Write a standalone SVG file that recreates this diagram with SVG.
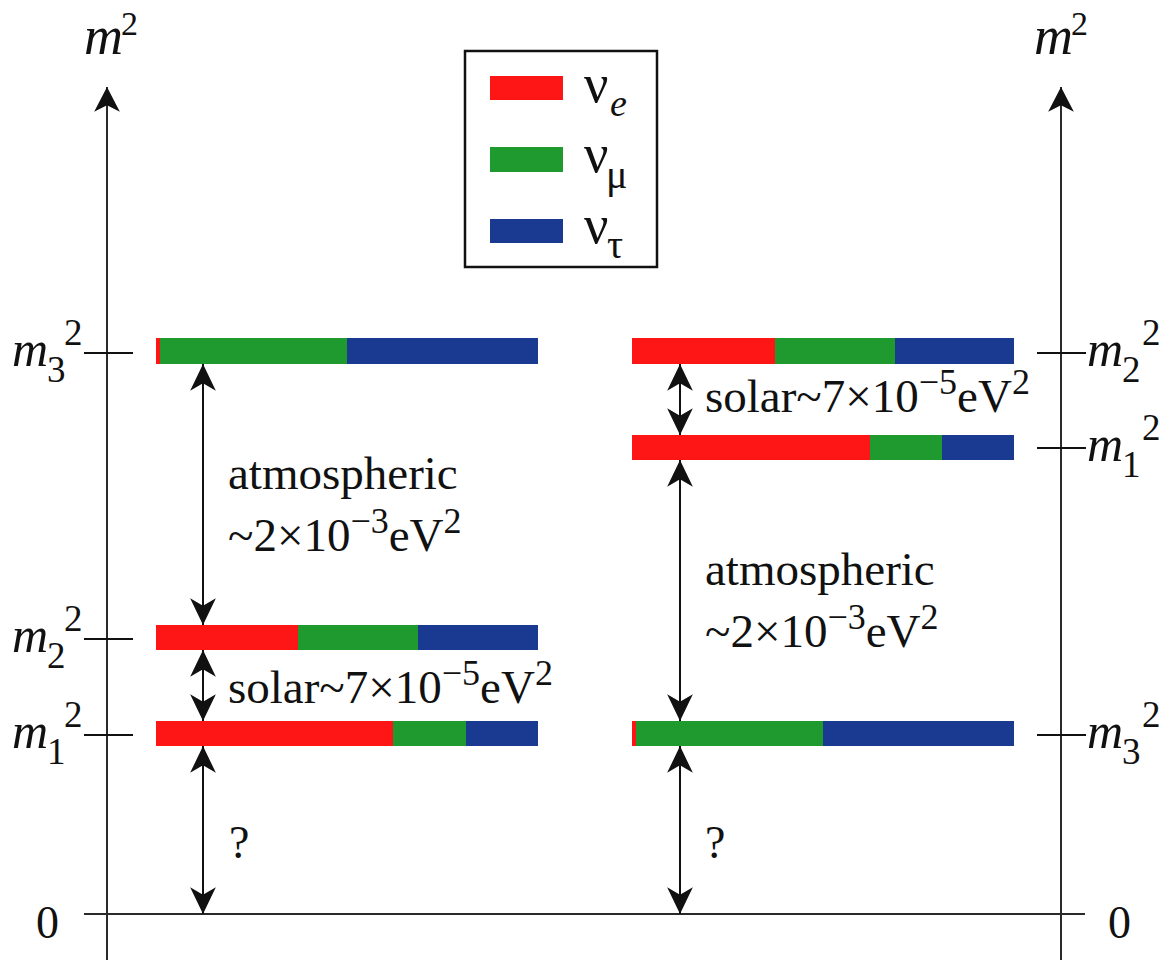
<svg xmlns="http://www.w3.org/2000/svg" width="1172" height="960" viewBox="0 0 1172 960">
  <style>
    text { font-family: "Liberation Serif", "Times New Roman", serif; fill: #111; }
    .it { font-style: italic; }
    .m { font-size: 50px; font-style: italic; }
    .ms { font-size: 37px; }
    .lbl { font-size: 47px; }
    .sup { font-size: 36px; }
    .ax { stroke: #2a2a2a; stroke-width: 2; fill: none; }
    .tick { stroke: #111; stroke-width: 2.2; }
    .arr { stroke: #111; stroke-width: 2; fill: none; marker-start: url(#head); marker-end: url(#head); }
    .r { fill: #fe1616; }
    .g { fill: #1f9a2e; }
    .b { fill: #1a3a92; }
  </style>
  <defs>
    <marker id="head" markerUnits="userSpaceOnUse" markerWidth="30" markerHeight="30" viewBox="-26 -14 28 28" refX="0" refY="0" orient="auto-start-reverse">
      <path d="M0,0 L-25,-12 L-18,0 L-25,12 Z" fill="#111"/>
    </marker>
    <marker id="axhead" markerUnits="userSpaceOnUse" markerWidth="30" markerHeight="30" viewBox="-26 -14 28 28" refX="0" refY="0" orient="auto">
      <path d="M0,0 L-23,-12 L-17,0 L-23,12 Z" fill="#111"/>
    </marker>
  </defs>

  <rect width="1172" height="960" fill="#ffffff"/>

  <!-- axes -->
  <g id="axes">
    <line class="ax" x1="107" y1="960" x2="107" y2="87" marker-end="url(#axhead)"/>
    <line class="ax" x1="1061" y1="960" x2="1061" y2="87" marker-end="url(#axhead)"/>
    <line class="ax" x1="84" y1="914" x2="1085" y2="914"/>
    <text x="84" y="54" font-size="54" class="it">m</text>
    <text x="121" y="35" font-size="34">2</text>
    <text x="1034" y="54" font-size="54" class="it">m</text>
    <text x="1071" y="35" font-size="34">2</text>
    <text x="36" y="938" font-size="46">0</text>
    <text x="1108" y="938" font-size="46">0</text>
  </g>

  <!-- legend -->
  <g id="legend">
    <rect x="465" y="51" width="192" height="216" fill="#fff" stroke="#111" stroke-width="2.5"/>
    <rect class="r" x="490" y="76" width="73" height="24"/>
    <rect class="g" x="490" y="147" width="73" height="25"/>
    <rect class="b" x="490" y="219" width="73" height="24"/>
    <text x="584" y="102" font-size="54">ν</text>
    <text x="610" y="116" font-size="38" class="it">e</text>
    <text x="584" y="172" font-size="54">ν</text>
    <text x="606" y="188" font-size="40">μ</text>
    <text x="584" y="243" font-size="54">ν</text>
    <text x="607" y="258" font-size="40">τ</text>
  </g>

  <!-- left spectrum (normal) -->
  <g id="left-m3">
    <rect class="r" x="156" y="338" width="4" height="26"/>
    <rect class="g" x="160" y="338" width="187" height="26"/>
    <rect class="b" x="347" y="338" width="191" height="26"/>
    <line class="tick" x1="84" y1="353" x2="133" y2="353"/>
    <text x="12" y="366" class="m">m</text>
    <text x="47" y="382" class="ms">3</text>
    <text x="64" y="345" class="ms">2</text>
  </g>
  <g id="left-m2">
    <rect class="r" x="156" y="625" width="142" height="25"/>
    <rect class="g" x="298" y="625" width="120" height="25"/>
    <rect class="b" x="418" y="625" width="120" height="25"/>
    <line class="tick" x1="84" y1="639" x2="133" y2="639"/>
    <text x="12" y="652" class="m">m</text>
    <text x="47" y="668" class="ms">2</text>
    <text x="64" y="631" class="ms">2</text>
  </g>
  <g id="left-m1">
    <rect class="r" x="156" y="721" width="237" height="25"/>
    <rect class="g" x="393" y="721" width="73" height="25"/>
    <rect class="b" x="466" y="721" width="72" height="25"/>
    <line class="tick" x1="84" y1="735" x2="133" y2="735"/>
    <text x="12" y="748" class="m">m</text>
    <text x="47" y="764" class="ms">1</text>
    <text x="64" y="727" class="ms">2</text>
  </g>

  <!-- right spectrum (inverted) -->
  <g id="right-m2">
    <rect class="r" x="632" y="338" width="143" height="26"/>
    <rect class="g" x="775" y="338" width="120" height="26"/>
    <rect class="b" x="895" y="338" width="119" height="26"/>
    <line class="tick" x1="1037" y1="353" x2="1086" y2="353"/>
    <text x="1087" y="366" class="m">m</text>
    <text x="1122" y="382" class="ms">2</text>
    <text x="1142" y="345" class="ms">2</text>
  </g>
  <g id="right-m1">
    <rect class="r" x="632" y="435" width="238" height="25"/>
    <rect class="g" x="870" y="435" width="72" height="25"/>
    <rect class="b" x="942" y="435" width="72" height="25"/>
    <line class="tick" x1="1037" y1="448" x2="1086" y2="448"/>
    <text x="1087" y="461" class="m">m</text>
    <text x="1122" y="477" class="ms">1</text>
    <text x="1142" y="440" class="ms">2</text>
  </g>
  <g id="right-m3">
    <rect class="r" x="632" y="721" width="4" height="25"/>
    <rect class="g" x="636" y="721" width="187" height="25"/>
    <rect class="b" x="823" y="721" width="191" height="25"/>
    <line class="tick" x1="1037" y1="735" x2="1086" y2="735"/>
    <text x="1087" y="748" class="m">m</text>
    <text x="1122" y="764" class="ms">3</text>
    <text x="1142" y="727" class="ms">2</text>
  </g>

  <!-- connectors -->
  <g id="connectors">
    <line class="arr" x1="203" y1="364" x2="203" y2="625"/>
    <line class="arr" x1="203" y1="650" x2="203" y2="721"/>
    <line class="arr" x1="203" y1="746" x2="203" y2="914"/>
    <line class="arr" x1="680" y1="364" x2="680" y2="435"/>
    <line class="arr" x1="680" y1="460" x2="680" y2="721"/>
    <line class="arr" x1="680" y1="746" x2="680" y2="914"/>
  </g>

  <!-- labels -->
  <g id="labels">
    <text x="228" y="489" class="lbl">atmospheric</text>
    <text x="228" y="551" class="lbl">~2×10<tspan class="sup" dy="-18">−3</tspan><tspan dy="18">eV</tspan><tspan class="sup" dy="-18">2</tspan></text>
    <text x="228" y="703" class="lbl">solar~7×10<tspan class="sup" dy="-18">−5</tspan><tspan dy="18">eV</tspan><tspan class="sup" dy="-18">2</tspan></text>
    <text x="229" y="858" font-size="46">?</text>
    <text x="705" y="412" class="lbl">solar~7×10<tspan class="sup" dy="-18">−5</tspan><tspan dy="18">eV</tspan><tspan class="sup" dy="-18">2</tspan></text>
    <text x="705" y="585" class="lbl">atmospheric</text>
    <text x="705" y="647" class="lbl">~2×10<tspan class="sup" dy="-18">−3</tspan><tspan dy="18">eV</tspan><tspan class="sup" dy="-18">2</tspan></text>
    <text x="705" y="858" font-size="46">?</text>
  </g>
</svg>
